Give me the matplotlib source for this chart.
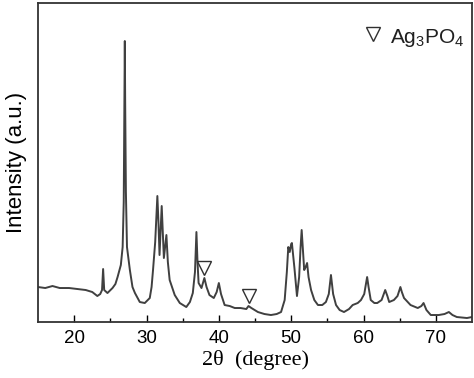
import matplotlib
matplotlib.use('Agg')
import matplotlib.pyplot as plt

plt.rcParams['font.family'] = ['Liberation Sans', 'DejaVu Sans']
plt.rcParams['mathtext.default'] = 'regular'

# 2theta (degree)
two_theta = [15.0, 16.0, 17.0, 18.0, 19.3, 20.5, 21.6, 22.5, 23.2, 23.6, 23.85, 24.0, 24.15, 24.6,
             25.3, 25.7, 26.0, 26.45, 26.7, 26.85, 26.95, 27.0, 27.05, 27.15, 27.3, 27.7, 28.06,
             28.4, 29.07, 29.76, 30.45, 30.7, 30.9, 31.2, 31.5, 31.65, 31.8, 32.1, 32.3, 32.4,
             32.75, 32.95, 33.2, 33.9, 34.6, 35.5, 36.0, 36.4, 36.7, 36.9, 37.05, 37.2, 37.6,
             38.0, 38.3, 38.7, 39.3, 39.7, 40.0, 40.3, 40.8, 41.5, 42.2, 43.0, 43.8, 44.1, 44.5,
             45.4, 46.3, 47.2, 48.0, 48.6, 49.1, 49.4, 49.6, 49.8, 50.0, 50.1, 50.45, 50.8, 51.1,
             51.3, 51.45, 51.6, 51.8, 52.0, 52.2, 52.4, 52.75, 53.2, 53.7, 54.3, 54.8, 55.2, 55.5,
             55.8, 56.2, 56.7, 57.3, 58.0, 58.5, 59.2, 59.65, 60.1, 60.5, 60.7, 61.0, 61.5, 61.9,
             62.5, 63.0, 63.3, 63.55, 64.2, 64.7, 65.1, 65.3, 65.6, 66.5, 67.5, 68.0, 68.3, 68.7,
             69.3, 70.4, 71.2, 71.8, 72.3, 72.9, 74.3, 75.0]
intensity = [35, 34, 36, 34, 34, 33, 32, 30, 26, 28, 32, 53, 32, 29,
             34, 38, 45, 57, 75, 120, 220, 281, 220, 130, 75, 52, 35,
             29, 20, 19, 24, 35, 52, 80, 126, 100, 67, 116, 80, 64,
             87, 60, 42, 27, 19, 15, 20, 29, 50, 90, 60, 39, 34,
             44, 35, 27, 24, 30, 39, 28, 17, 16, 14, 14, 13, 16, 14,
             10, 8, 7, 8, 10, 22, 50, 75, 70, 78, 79, 54, 26, 45,
             75, 92, 75, 52, 55, 59, 45, 32, 22, 17, 17, 20, 28, 47,
             28, 17, 12, 10, 13, 17, 19, 22, 28, 45, 35, 22, 19, 19,
             22, 32, 26, 20, 22, 26, 35, 30, 24, 17, 14, 16, 19, 12,
             7, 7, 8, 10, 7, 5, 4, 5]

# Ag3PO4 markers
marker_x = [38.0, 44.15]
marker_y = [54, 26]

fig = plt.figure(figsize=(4.74, 3.78), dpi=100)
ax = fig.add_axes([0.0802, 0.1481, 0.9156, 0.8439])

ax.plot(two_theta, intensity, color='#404040', lw=1.4)
ax.plot(marker_x, marker_y, linestyle='none', marker='v', ms=10,
        mfc='white', mec='#303030', mew=1.0)

# legend
ax.plot([61.35], [288], marker='v', ms=10, mfc='white', mec='#303030', mew=1.0)
ax.text(63.6, 279, 'Ag$_3$PO$_4$', fontsize=15, color='#202020', va='baseline')

ax.set_xlim(15, 75)
ax.set_ylim(0, 319)
ax.set_xticks([20, 30, 40, 50, 60, 70])
ax.set_xticks([25, 35, 45, 55, 65], minor=True)
ax.tick_params(axis='x', which='major', direction='in', length=5, width=1, labelsize=13.5, pad=6)
ax.tick_params(axis='x', which='minor', direction='in', length=3, width=1)
ax.set_yticks([])
for s in ax.spines.values():
    s.set_color('#333333')
    s.set_linewidth(1.3)

ax.set_xlabel('2\u03b8  (degree)', fontsize=16, family=['Liberation Serif', 'DejaVu Serif'], labelpad=2)
ax.set_ylabel('Intensity (a.u.)', fontsize=16, labelpad=8)

fig.savefig('out.png', dpi=100)
